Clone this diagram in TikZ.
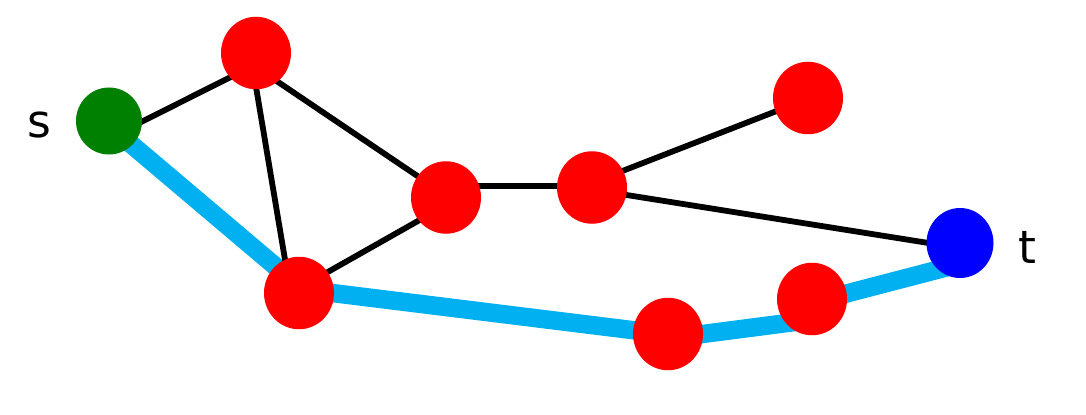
\documentclass[tikz,border=0pt]{standalone}
\usepackage{fontspec}
\setmainfont{DejaVu Sans}
\usetikzlibrary{shapes.geometric}
\definecolor{pathblue}{HTML}{00B0F0}
\definecolor{sgreen}{HTML}{008000}
\tikzset{
	vertex/.style={ellipse, fill=red, minimum width=1.40cm, minimum height=1.45cm, inner sep=0pt},
	edge/.style={black, line width=3.3pt},
	pathedge/.style={pathblue, line width=10.5pt},
	lbl/.style={anchor=base, font=\fontsize{26}{30}\selectfont}
}
\begin{document}
\begin{tikzpicture}
	\useasboundingbox (0,0) rectangle (21.72,8.28);
	%knoten (zuerst nur Namen, gezeichnet wird unten)
	\path (2.18,5.86) coordinate (s) (5.12,7.22) coordinate (a)
		(5.98,2.42) coordinate (b) (8.92,4.33) coordinate (c)
		(11.84,4.53) coordinate (d) (16.16,6.32) coordinate (e)
		(13.36,1.60) coordinate (f) (16.24,2.30) coordinate (g)
		(19.20,3.42) coordinate (t);
	%kurzer weg s -> t
	\draw[pathedge] ([yshift=-0.09cm]s) -- ([yshift=0.134cm]b);
	\draw[pathedge] ([yshift=0.082cm]b) -- ([yshift=-0.01cm]f);
	\draw[pathedge] ([yshift=-0.09cm]f) -- ([yshift=-0.416cm]g);
	\draw[pathedge] ([yshift=-0.07cm]g) -- ([yshift=-0.418cm]t);
	%restliche kanten
	\draw[edge] ([yshift=-0.342cm]s) -- ([yshift=-0.228cm]a);
	\draw[edge] ([xshift=-0.114cm]a) -- ([xshift=-0.168cm]b);
	\draw[edge] ([yshift=-0.282cm]a) -- ([yshift=0.044cm]c);
	\draw[edge] ([yshift=0.094cm]b) -- ([yshift=-0.152cm]c);
	\draw[edge] ([yshift=0.236cm]c) -- ([yshift=0.036cm]d);
	\draw[edge] ([yshift=0.094cm]d) -- ([yshift=-0.016cm]e);
	\draw[edge] ([yshift=-0.04cm]d) -- ([yshift=-0.10cm]t);
	%kreise
	\node[vertex, fill=sgreen, minimum width=1.32cm, minimum height=1.34cm] (sdot) at (s) {};
	\node[vertex] (adot) at (a) {};
	\node[vertex] (bdot) at (b) {};
	\node[vertex] (cdot) at (c) {};
	\node[vertex] (ddot) at (d) {};
	\node[vertex] (edot) at (e) {};
	\node[vertex] (fdot) at (f) {};
	\node[vertex] (gdot) at (g) {};
	\node[vertex, fill=blue, minimum width=1.34cm, minimum height=1.40cm] (tdot) at (t) {};
	%beschriftung
	\node[lbl] (slabel) at (0.78,5.54) {s};
	\node[lbl] (tlabel) at (20.54,3.02) {t};
\end{tikzpicture}
\end{document}
